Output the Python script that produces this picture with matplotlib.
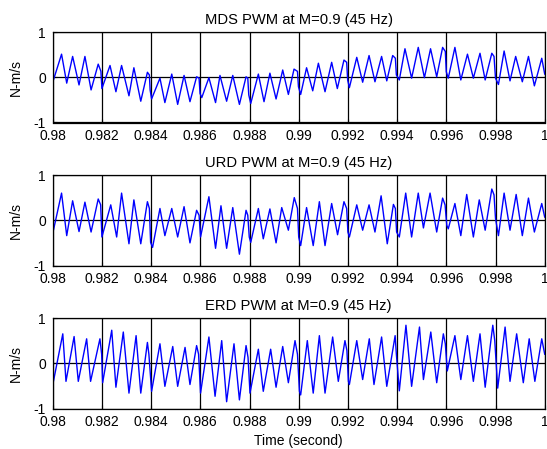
import matplotlib
matplotlib.use("Agg")
import matplotlib.pyplot as plt
import numpy as np

plt.rcParams['font.family'] = ['Liberation Sans', 'DejaVu Sans']

titles = ["MDS PWM at M=0.9 (45 Hz)", "URD PWM at M=0.9 (45 Hz)", "ERD PWM at M=0.9 (45 Hz)"]
ylabel = "N-m/s"
xlabel = "Time (second)"
xticks = [0.98, 0.982, 0.984, 0.986, 0.988, 0.99, 0.992, 0.994, 0.996, 0.998, 1.0]
xticklabels = ["0.98", "0.982", "0.984", "0.986", "0.988", "0.99", "0.992", "0.994", "0.996", "0.998", "1"]
yticks = [-1, 0, 1]

# time offsets in milliseconds after t = 0.98 s, with values (N-m/s)
mds_ms = [0.0, 0.03, 0.36, 0.57, 0.81, 1.07, 1.31, 1.56, 1.85, 1.96, 2.0, 2.33, 2.57, 2.80, 3.10, 3.30, 3.58, 3.85, 3.93, 3.96,
          4.02, 4.36, 4.56, 4.84, 5.08, 5.34, 5.58, 5.85, 5.95, 5.99, 6.06, 6.35, 6.62,
          6.80, 7.07, 7.32, 7.59, 7.86, 7.93, 7.97, 8.05, 8.36, 8.59, 8.83, 9.08, 9.35, 9.58, 9.81, 9.95, 9.99,
          10.08, 10.32, 10.57, 10.80, 11.07, 11.34, 11.57, 11.84, 11.95, 11.99, 12.06, 12.36, 12.60, 12.86, 13.10,
          13.37, 13.58, 13.82, 13.93, 13.97, 14.09, 14.32, 14.59, 14.86, 15.11, 15.36, 15.61, 15.85, 15.96, 16.0,
          16.08, 16.35, 16.59, 16.86, 17.10, 17.37, 17.58, 17.85, 17.94, 18.0, 18.12, 18.35, 18.59, 18.82, 19.09,
          19.34, 19.58, 19.88, 20.0]
mds_val = [0.27, -0.06, 0.51, -0.13, 0.46, -0.17, 0.46, -0.28, 0.29, 0.13, -0.25, 0.26, -0.32, 0.26, -0.41, 0.21, -0.53, 0.11, 0.05, -0.28,
           -0.48, -0.02, -0.56, 0.07, -0.60, 0.04, -0.54, 0.01, -0.02, -0.36, -0.45, -0.01, -0.56,
           0.04, -0.53, 0.04, -0.60, 0.01, -0.02, -0.39, -0.58, 0.07, -0.54, 0.09, -0.48, 0.16, -0.38, 0.18, 0.13, -0.21,
           -0.38, 0.21, -0.30, 0.31, -0.32, 0.33, -0.25, 0.38, 0.33, -0.06, -0.23, 0.44, -0.11, 0.48, -0.10,
           0.46, -0.08, 0.48, 0.42, 0.05, -0.06, 0.63, -0.02, 0.66, -0.01, 0.63, 0.01, 0.66, 0.57, 0.12,
           -0.02, 0.66, -0.06, 0.51, -0.02, 0.53, -0.06, 0.53, 0.46, -0.02, -0.16, 0.58, -0.08, 0.46, -0.10,
           0.46, -0.19, 0.42, 0.07]

urd_ms = [0.0, 0.03, 0.36, 0.57, 0.81, 1.07, 1.31, 1.56, 1.85, 1.95, 2.0, 2.36, 2.60, 2.80, 3.10, 3.30, 3.58, 3.85, 3.93, 3.98,
          4.06, 4.36, 4.56, 4.84, 5.08, 5.34, 5.58, 5.85, 5.95, 6.01, 6.35, 6.62,
          6.84, 7.07, 7.32, 7.59, 7.86, 7.93, 7.99, 8.05, 8.36, 8.56, 8.83, 9.08, 9.31, 9.58, 9.82, 9.95, 10.0,
          10.08, 10.32, 10.59, 10.84, 11.07, 11.34, 11.58, 11.84, 11.95, 12.0, 12.06, 12.36, 12.60, 12.86, 13.10,
          13.35, 13.60, 13.85, 13.93, 13.98, 14.09, 14.35, 14.59, 14.86, 15.07, 15.34, 15.61, 15.85, 15.95, 16.02,
          16.08, 16.35, 16.59, 16.83, 17.10, 17.34, 17.58, 17.85, 17.94, 18.0, 18.12, 18.35, 18.59, 18.84, 19.09,
          19.34, 19.58, 19.88, 20.0]
urd_val = [0.19, -0.22, 0.60, -0.34, 0.43, -0.25, 0.40, -0.26, 0.47, 0.34, -0.37, 0.34, -0.37, 0.60, -0.52, 0.45, -0.52, 0.41, 0.26, -0.49,
           -0.60, 0.26, -0.34, 0.26, -0.37, 0.30, -0.50, 0.22, 0.11, -0.37, 0.52, -0.62,
           0.32, -0.62, 0.28, -0.75, 0.22, 0.11, -0.37, -0.49, 0.26, -0.41, 0.25, -0.50, 0.28, -0.22, 0.50, 0.26, -0.37,
           -0.56, 0.28, -0.56, 0.41, -0.56, 0.37, -0.32, 0.41, 0.26, -0.26, -0.37, 0.34, -0.22, 0.34, -0.26,
           0.54, -0.52, 0.35, 0.26, -0.26, -0.37, 0.60, -0.37, 0.60, -0.17, 0.60, -0.26, 0.49, 0.34, -0.11,
           -0.19, 0.37, -0.34, 0.57, -0.37, 0.45, -0.22, 0.69, 0.56, 0.04, -0.34, 0.60, -0.22, 0.57, -0.34,
           0.49, -0.26, 0.37, 0.07]

erd_ms = [0.0, 0.03, 0.41, 0.54, 0.87, 1.04, 1.38, 1.54, 1.92, 1.99, 2.03, 2.40, 2.57, 2.87, 3.10, 3.39, 3.58, 3.85, 3.91,
          4.02, 4.36, 4.56, 4.88, 5.08, 5.38, 5.58, 5.85, 5.93, 6.01, 6.35, 6.60,
          6.87, 7.07, 7.37, 7.59, 7.86, 7.94, 8.02, 8.36, 8.56, 8.86, 9.08, 9.35, 9.58, 9.85, 9.95, 10.03,
          10.08, 10.35, 10.59, 10.84, 11.07, 11.38, 11.61, 11.88, 11.96, 12.02, 12.06, 12.36, 12.60, 12.87, 13.06,
          13.37, 13.58, 13.92, 13.97, 14.09, 14.36, 14.59, 14.91, 15.07, 15.37, 15.61, 15.88, 15.96, 16.04,
          16.35, 16.59, 16.86, 17.10, 17.37, 17.58, 17.89, 17.97, 18.09, 18.39, 18.59, 18.86, 19.13,
          19.37, 19.60, 19.88, 20.0]
erd_val = [0.20, -0.40, 0.65, -0.40, 0.59, -0.40, 0.54, -0.40, 0.54, 0.20, -0.43, 0.73, -0.53, 0.69, -0.66, 0.61, -0.66, 0.46, 0.20,
           -0.62, 0.43, -0.51, 0.37, -0.51, 0.35, -0.47, 0.39, 0.20, -0.66, 0.58, -0.73,
           0.50, -0.85, 0.43, -0.81, 0.39, 0.13, -0.66, 0.31, -0.62, 0.31, -0.53, 0.37, -0.43, 0.50, 0.20, -0.62,
           -0.70, 0.50, -0.66, 0.61, -0.66, 0.58, -0.40, 0.50, 0.28, -0.40, -0.47, 0.50, -0.36, 0.54, -0.47,
           0.58, -0.51, 0.61, 0.20, -0.61, 0.84, -0.51, 0.80, -0.36, 0.69, -0.43, 0.65, 0.43, -0.17,
           0.61, -0.36, 0.61, -0.40, 0.65, -0.53, 0.84, 0.50, -0.55, 0.80, -0.40, 0.65, -0.43,
           0.54, -0.40, 0.54, 0.20]

series = [(mds_ms, mds_val), (urd_ms, urd_val), (erd_ms, erd_val)]

fig = plt.figure(figsize=(5.47, 4.49), dpi=100)
W, H = 547.0, 449.0
left_px, right_px = 52.7, 544.7
tops = [32.0, 175.0, 318.0]
height_px = 90.5
FS = 10

for i, (ms, val) in enumerate(series):
    top = tops[i]
    ax = fig.add_axes([left_px / W, 1 - (top + height_px) / H, (right_px - left_px) / W, height_px / H])
    t = 0.98 + np.asarray(ms) / 1000.0
    ax.plot(t, val, color='#0000ff', linewidth=1.0)
    ax.set_xlim(0.98, 1.0)
    ax.set_ylim(-1, 1)
    ax.set_xticks(xticks)
    ax.set_xticklabels(xticklabels)
    ax.set_yticks(yticks)
    ax.set_yticklabels(["-1", "0", "1"])
    ax.grid(True, color='black', linewidth=0.9, linestyle='-')
    ax.set_axisbelow(True)
    ax.tick_params(axis='x', direction='in', length=3, labelsize=FS, pad=4.5, width=0.8)
    ax.tick_params(axis='y', direction='in', length=3, labelsize=FS, pad=5, width=0.8)
    for s in ax.spines.values():
        s.set_linewidth(0.9)
    ax.set_title(titles[i], fontsize=10.6, pad=6)
    ax.set_ylabel(ylabel, fontsize=FS, labelpad=8)
    if i == 2:
        ax.set_xlabel(xlabel, fontsize=FS, labelpad=4)

fig.savefig("out.png", dpi=100)
